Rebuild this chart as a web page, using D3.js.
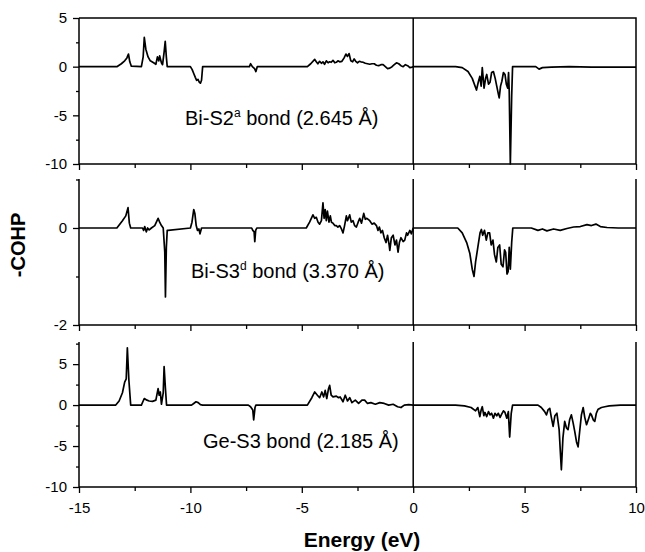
<!DOCTYPE html>
<html>
<head>
<meta charset="utf-8">
<script src="https://cdn.jsdelivr.net/npm/d3@7"></script>
<style>
  body { margin: 0; background: #fff; }
  svg { display: block; font-family: Arial, "Liberation Sans", sans-serif; }
</style>
</head>
<body>
<script>
const width = 645;
const height = 552;
const marginLeft = 79;
const marginRight = 9;

// energy axis
const energyDomain = [-15, 10];
const energyMajor = [-15, -10, -5, 0, 5, 10];
const energyMinor = [-12.5, -7.5, -2.5, 2.5, 7.5];

// Bi-S2a bond (2.645 Å)  [energy, -COHP]
const biS2a = [
  [-15, 0], [-13.3, 0], [-13.1, 0.3], [-12.95, 0.6], [-12.85, 0.9], [-12.78, 1.3], [-12.72, 0.5], [-12.65, 0.05],
  [-12.2, 0], [-12.12, 1.0], [-12.07, 3.0], [-12.0, 1.8], [-11.9, 1.0], [-11.8, 0.6], [-11.65, 0.4], [-11.55, 0.25],
  [-11.48, 1.0], [-11.42, 0.6], [-11.38, 1.1], [-11.3, 0.4], [-11.25, 0.2], [-11.18, 1.5], [-11.13, 2.6], [-11.08, 1.0],
  [-11.04, 0], [-10.0, 0], [-9.92, -0.3], [-9.85, -0.7], [-9.78, -1.1], [-9.72, -1.4], [-9.66, -1.3], [-9.6, -1.6],
  [-9.55, -1.7], [-9.5, -1.4], [-9.45, 0], [-7.35, 0], [-7.3, 0.3], [-7.22, 0], [-7.12, -0.2], [-7.06, -0.5], [-7.0, 0],
  [-4.75, 0], [-4.6, 0.3], [-4.42, 0.75], [-4.35, 0.5], [-4.28, 0.3], [-4.2, 0.55], [-4.12, 0.35], [-4.05, 0.5],
  [-3.98, 0.25], [-3.9, 0.6], [-3.82, 0.4], [-3.75, 0.5], [-3.68, 0.45], [-3.6, 0.65], [-3.52, 0.4], [-3.45, 0.45],
  [-3.38, 0.6], [-3.3, 0.5], [-3.2, 0.55], [-3.1, 0.9], [-3.02, 1.3], [-2.95, 1.05], [-2.88, 1.35], [-2.8, 0.6],
  [-2.72, 0.5], [-2.65, 0.8], [-2.58, 0.55], [-2.5, 0.4], [-2.42, 0.55], [-2.35, 0.5], [-2.25, 0.45], [-2.15, 0.35],
  [-2.05, 0.3], [-1.95, 0.25], [-1.85, 0.3], [-1.75, 0.3], [-1.65, 0.15], [-1.55, 0.1], [-1.45, 0.2], [-1.35, 0.2],
  [-1.25, 0.0], [-1.15, -0.2], [-1.05, -0.15], [-0.95, 0.0], [-0.85, 0.2], [-0.75, 0.4], [-0.65, 0.3], [-0.55, 0.1],
  [-0.45, 0.0], [-0.35, 0.2], [-0.25, 0.1], [-0.15, -0.1], [-0.05, -0.05], [0, 0],
  [1.9, 0], [2.2, -0.1], [2.46, -0.5], [2.65, -1.2], [2.84, -2.4], [2.92, -1.6], [2.99, -1.0], [3.05, -2.0],
  [3.1, -0.1], [3.18, -2.2], [3.25, -1.2], [3.3, -0.8], [3.38, -1.8], [3.45, -1.6], [3.52, -0.6], [3.6, -0.5],
  [3.68, -1.2], [3.75, -2.0], [3.82, -2.8], [3.86, -3.2], [3.92, -2.0], [3.98, -1.5], [4.05, -0.6], [4.12, -0.8],
  [4.18, -1.8], [4.24, -2.2], [4.28, -0.6], [4.31, -2.5], [4.36, -10], [4.42, -3], [4.46, 0],
  [5.5, 0], [5.65, -0.25], [5.8, -0.1], [6.2, -0.05], [7, 0], [8, -0.05], [10, -0.05]
];

// Bi-S3d bond (3.370 Å)
const biS3d = [
  [-15, 0], [-13.3, 0], [-13.05, 0.15], [-12.9, 0.25], [-12.8, 0.42], [-12.74, 0.1], [-12.68, 0],
  [-12.15, 0], [-12.1, -0.05], [-12.05, 0.03], [-11.98, -0.08], [-11.92, 0], [-11.85, -0.04], [-11.75, 0],
  [-11.6, 0.05], [-11.45, 0.2], [-11.38, 0.12], [-11.3, 0.05], [-11.22, 0.0], [-11.15, -0.5], [-11.12, -1.42],
  [-11.08, -0.4], [-11.04, -0.05], [-11.0, -0.05], [-10.0, 0], [-9.93, 0.12], [-9.85, 0.38], [-9.8, 0.3],
  [-9.74, 0.05], [-9.68, -0.05], [-9.62, -0.02], [-9.57, -0.12], [-9.5, 0], [-7.25, 0], [-7.2, -0.05],
  [-7.14, -0.08], [-7.11, -0.28], [-7.07, -0.05], [-7.02, 0],
  [-4.8, 0], [-4.65, 0.12], [-4.5, 0.27], [-4.42, 0.2], [-4.35, 0.22], [-4.27, 0.12], [-4.2, 0.08], [-4.12, 0.15],
  [-4.05, 0.52], [-4.0, 0.2], [-3.95, 0.38], [-3.9, 0.15], [-3.85, 0.35], [-3.78, 0.12], [-3.72, 0.25], [-3.67, 0.12],
  [-3.6, 0.1], [-3.52, 0.05], [-3.45, 0.05], [-3.38, 0.02], [-3.3, 0.05], [-3.22, -0.02], [-3.15, -0.1], [-3.08, 0.05],
  [-3.0, 0.25], [-2.95, 0.15], [-2.85, 0.27], [-2.78, 0.12], [-2.7, 0.15], [-2.63, 0.05], [-2.55, 0.02], [-2.47, 0.12],
  [-2.4, 0.2], [-2.32, 0.1], [-2.22, 0.3], [-2.15, 0.18], [-2.08, 0.2], [-1.95, 0.15], [-1.85, 0.08], [-1.75, 0.1],
  [-1.65, 0.05], [-1.58, -0.05], [-1.52, 0.02], [-1.45, -0.1], [-1.38, -0.05], [-1.3, -0.2], [-1.22, -0.3], [-1.15, -0.15],
  [-1.08, -0.35], [-1.05, -0.46], [-0.98, -0.2], [-0.9, -0.15], [-0.82, -0.35], [-0.75, -0.25], [-0.68, -0.5], [-0.62, -0.3],
  [-0.55, -0.2], [-0.45, -0.28], [-0.38, -0.25], [-0.3, -0.1], [-0.25, -0.15], [-0.15, -0.05], [-0.08, -0.12], [0, 0],
  [2.0, 0], [2.2, -0.1], [2.4, -0.3], [2.54, -0.52], [2.65, -0.85], [2.73, -1.0], [2.8, -0.7], [2.9, -0.4],
  [3.0, -0.1], [3.06, -0.03], [3.12, -0.15], [3.2, -0.05], [3.28, -0.25], [3.35, -0.1], [3.43, -0.1], [3.5, -0.35],
  [3.58, -0.25], [3.65, -0.55], [3.73, -0.7], [3.8, -0.4], [3.88, -0.35], [3.95, -0.75], [4.03, -0.8], [4.1, -0.45],
  [4.15, -0.5], [4.21, -0.95], [4.26, -0.9], [4.31, -0.4], [4.36, -0.85], [4.42, -0.3], [4.47, 0],
  [5.3, 0], [5.6, -0.05], [5.8, -0.02], [6.0, -0.06], [6.3, -0.02], [6.6, -0.05], [6.9, -0.01], [7.2, 0.02],
  [7.5, 0.03], [7.8, 0.07], [8.0, 0.05], [8.2, 0.08], [8.4, 0.03], [8.7, 0.01], [9.2, 0], [10, 0]
];

// Ge-S3 bond (2.185 Å)
const geS3 = [
  [-15, 0], [-13.35, 0], [-13.2, 0.5], [-13.05, 1.5], [-12.95, 2.8], [-12.88, 3.2], [-12.83, 7.0], [-12.76, 3.0],
  [-12.68, 0], [-12.2, 0], [-12.12, 0.5], [-12.07, 0.8], [-11.95, 0.6], [-11.85, 0.5], [-11.7, 0.45], [-11.55, 0.6],
  [-11.5, 1.3], [-11.45, 2.0], [-11.4, 1.2], [-11.35, 1.6], [-11.3, 0.1], [-11.22, 1.5], [-11.18, 4.7], [-11.12, 2.0],
  [-11.07, 0], [-9.95, 0], [-9.85, 0.2], [-9.75, 0.4], [-9.65, 0.3], [-9.55, 0.05], [-9.45, 0], [-7.4, 0],
  [-7.3, -0.2], [-7.2, -0.6], [-7.16, -1.8], [-7.1, -0.3], [-7.06, 0],
  [-4.75, 0], [-4.55, 0.9], [-4.42, 1.6], [-4.3, 1.2], [-4.2, 0.9], [-4.1, 1.6], [-4.02, 1.0], [-3.95, 1.8],
  [-3.88, 0.8], [-3.8, 2.0], [-3.75, 2.4], [-3.68, 1.2], [-3.6, 1.0], [-3.45, 1.1], [-3.35, 0.9], [-3.28, 1.0],
  [-3.15, 0.4], [-3.05, 1.2], [-2.95, 0.5], [-2.85, 0.9], [-2.75, 0.3], [-2.6, 0.6], [-2.45, 0.2], [-2.3, 0.6],
  [-2.18, 0.6], [-2.05, 0.2], [-1.9, 0.3], [-1.7, 0.1], [-1.5, 0.3], [-1.3, 0.2], [-1.1, 0], [-0.9, 0.1],
  [-0.7, -0.2], [-0.55, -0.3], [-0.4, 0], [-0.2, 0.05], [0, 0],
  [1.9, 0], [2.3, -0.1], [2.6, -0.3], [2.8, -0.7], [2.9, -0.3], [2.99, -1.4], [3.05, -0.6], [3.1, -0.2],
  [3.17, -1.3], [3.22, -0.9], [3.3, -1.4], [3.38, -0.8], [3.45, -1.2], [3.52, -1.0], [3.6, -1.6], [3.67, -1.0],
  [3.75, -1.3], [3.82, -1.0], [3.9, -1.5], [3.97, -1.1], [4.05, -0.7], [4.12, -0.9], [4.2, -1.6], [4.27, -0.8],
  [4.33, -3.9], [4.4, -1.0], [4.46, 0], [5.6, 0], [5.75, -0.3], [5.9, -0.8], [5.98, -1.2], [6.05, -0.6],
  [6.13, -0.4], [6.2, -1.5], [6.28, -2.6], [6.36, -1.3], [6.45, -1.0], [6.55, -3.0], [6.6, -5.5], [6.65, -7.9],
  [6.72, -4.0], [6.8, -2.0], [6.88, -2.8], [6.95, -3.0], [7.02, -1.8], [7.1, -1.2], [7.18, -2.2], [7.25, -3.2],
  [7.33, -4.5], [7.4, -5.1], [7.48, -3.0], [7.55, -1.2], [7.63, -0.3], [7.7, -1.5], [7.78, -2.4], [7.88, -1.6],
  [7.95, -1.0], [8.0, -1.2], [8.08, -1.8], [8.15, -2.0], [8.22, -1.0], [8.3, -0.5], [8.38, -0.4], [8.45, -0.3],
  [8.6, -0.2], [8.8, -0.1], [9.3, 0], [10, 0]
];

// y-axis settings per panel
const yDomains = [[-10, 5], [-2, 1.01], [-10, 7.7]];
const yMajor = [[-10, -5, 0, 5], [-2, 0], [-10, -5, 0, 5]];
const yMinor = [[-7.5, -2.5, 2.5], [-1, 1], [-7.5, -2.5, 2.5, 7.5]];
const panelTops = [18, 179, 342];
const panelBottoms = [164, 325, 487];
const series = [biS2a, biS3d, geS3];
const bondNames = ["Bi-S2", "Bi-S3", "Ge-S3"];
const bondSups = ["a", "d", ""];
const bondLengths = [" bond (2.645 Å)", " bond (3.370 Å)", " bond (2.185 Å)"];
const labelPos = [[185, 125], [191, 278], [203, 448]];

const svg = d3.select("body")
  .append("svg")
  .attr("width", width)
  .attr("height", height)
  .attr("viewBox", [0, 0, width, height]);

const xScale = d3.scaleLinear(energyDomain, [marginLeft, width - marginRight]);
const fmt = d => String(d);

series.forEach((data, p) => {
  const top = panelTops[p];
  const bottom = panelBottoms[p];
  const yScale = d3.scaleLinear(yDomains[p], [bottom, top]);
  const g = svg.append("g");

  // curve
  const line = d3.line()
    .x(d => xScale(d[0]))
    .y(d => yScale(d[1]));
  g.append("path")
    .attr("fill", "none")
    .attr("stroke", "#000")
    .attr("stroke-width", 1.7)
    .attr("stroke-linejoin", "round")
    .attr("d", line(data));

  // minor ticks
  g.append("g")
    .attr("transform", `translate(${marginLeft},0)`)
    .call(d3.axisLeft(yScale).tickValues(yMinor[p]).tickSize(3).tickFormat(""))
    .call(a => a.select(".domain").remove());
  g.append("g")
    .attr("transform", `translate(0,${bottom})`)
    .call(d3.axisBottom(xScale).tickValues(energyMinor).tickSize(4).tickFormat(""))
    .call(a => a.select(".domain").remove());

  // major ticks
  g.append("g")
    .attr("transform", `translate(${marginLeft},0)`)
    .call(d3.axisLeft(yScale).tickValues(yMajor[p]).tickSize(6).tickPadding(6).tickFormat(fmt))
    .call(a => a.select(".domain").remove());
  const xAxis = d3.axisBottom(xScale).tickValues(energyMajor).tickSize(6).tickPadding(9)
    .tickFormat(p === 2 ? fmt : "");
  g.append("g")
    .attr("transform", `translate(0,${bottom})`)
    .call(xAxis)
    .call(a => a.select(".domain").remove());

  g.selectAll(".tick line").attr("stroke", "#000").attr("stroke-width", 1.3);
  g.selectAll(".tick text")
    .attr("fill", "#000")
    .attr("font-size", 15)
    .attr("font-family", "Arial, 'Liberation Sans', sans-serif");

  // frame: left, bottom, right, zero line (top only on first panel)
  const x0 = xScale(energyDomain[0]);
  const x1 = xScale(energyDomain[1]);
  let frame = `M${x0},${top}V${bottom}H${x1}V${top}`;
  if (p === 0) frame += `H${x0}`;
  g.append("path")
    .attr("fill", "none")
    .attr("stroke", "#000")
    .attr("stroke-width", 1.5)
    .attr("d", frame);
  g.append("line")
    .attr("x1", xScale(0)).attr("x2", xScale(0))
    .attr("y1", top).attr("y2", bottom)
    .attr("stroke", "#000")
    .attr("stroke-width", 1.5);

  // bond label
  const t = g.append("text")
    .attr("x", labelPos[p][0])
    .attr("y", labelPos[p][1])
    .attr("font-size", 20)
    .attr("fill", "#000");
  t.append("tspan").text(bondNames[p]);
  if (bondSups[p]) {
    t.append("tspan").attr("font-size", 12).attr("dy", -8).text(bondSups[p]);
    t.append("tspan").attr("dy", 8).text(bondLengths[p]);
  } else {
    t.append("tspan").text(bondLengths[p]);
  }
});

svg.append("text")
  .attr("transform", "translate(25,245) rotate(-90)")
  .attr("text-anchor", "middle")
  .attr("font-size", 20)
  .attr("font-weight", "bold")
  .text("-COHP");

svg.append("text")
  .attr("x", 362)
  .attr("y", 547)
  .attr("text-anchor", "middle")
  .attr("font-size", 21)
  .attr("font-weight", "bold")
  .text("Energy (eV)");
</script>
</body>
</html>
